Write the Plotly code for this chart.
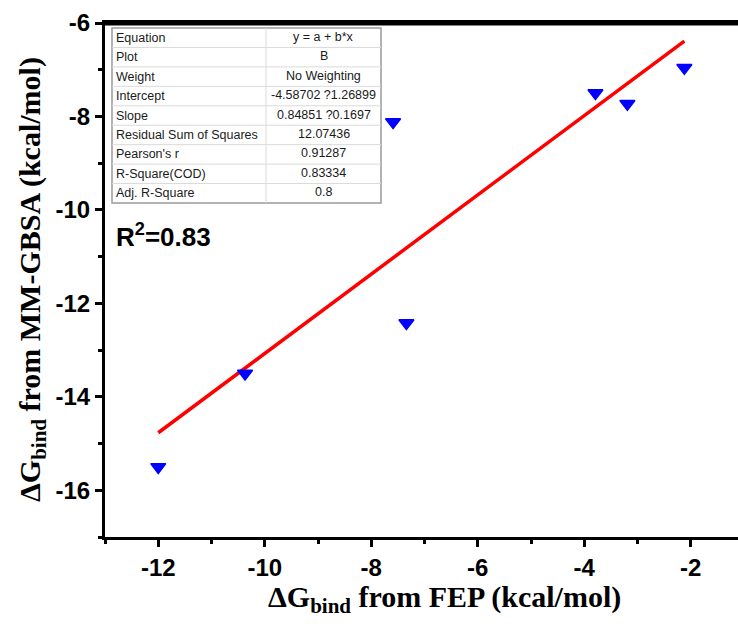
import plotly.graph_objects as go

# ---- data ----
fep_dg = [-12.0, -10.37, -7.59, -7.34, -3.79, -3.19, -2.12]
mmgbsa_dg = [-15.5, -13.5, -8.12, -12.42, -7.5, -7.73, -6.96]

fit_intercept = -4.58702
fit_slope = 0.84851

table_labels = ["Equation", "Plot", "Weight", "Intercept", "Slope",
                "Residual Sum of Squares", "Pearson's r", "R-Square(COD)", "Adj. R-Square"]
table_values = ["y = a + b*x", "B", "No Weighting", "-4.58702 ?1.26899", "0.84851 ?0.1697",
                "12.07436", "0.91287", "0.83334", "0.8"]

x_ticks = [-12, -10, -8, -6, -4, -2]
x_ticktext = ["-12", "-10", "-8", "-6", "-4", "-2"]
y_ticks = [-16, -14, -12, -10, -8, -6]
y_ticktext = ["-16", "-14", "-12", "-10", "-8", "-6"]

# ---- figure ----
W, H = 738, 624
ml, mr, mt, mb = 105, 0, 23, 87
pw = W - ml - mr
ph = H - mt - mb


def px_x(px):
    return (px - ml) / pw


def px_y(py):
    return (H - mb - py) / ph


fig = go.Figure()

line_x = [min(fep_dg), max(fep_dg)]
line_y = [fit_intercept + fit_slope * v for v in line_x]
fig.add_trace(go.Scatter(x=line_x, y=line_y, mode="lines",
                         line=dict(color="#ff0000", width=3.5), showlegend=False,
                         hoverinfo="skip"))
fig.add_trace(go.Scatter(x=fep_dg, y=mmgbsa_dg, mode="markers",
                         marker=dict(symbol="triangle-down", size=13, color="#0000ff",
                                     line=dict(width=1.5, color="#0000ff")),
                         showlegend=False))

# ---- results table (drawn with shapes + annotations) ----
tbl_left, tbl_right, tbl_top, tbl_bottom, tbl_split = 112, 381, 28, 203, 266
n_rows = len(table_labels)
row_h = (tbl_bottom - tbl_top) / n_rows
shapes = []
# top frame of the plot area
shapes.append(dict(type="rect", xref="paper", yref="paper",
                   x0=px_x(103.5), x1=1, y0=px_y(25.5), y1=px_y(22.5),
                   fillcolor="black", line=dict(width=0), layer="above"))
shapes.append(dict(type="rect", xref="paper", yref="paper",
                   x0=px_x(tbl_left), x1=px_x(tbl_right), y0=px_y(tbl_bottom), y1=px_y(tbl_top),
                   fillcolor="white", line=dict(color="#9a9a9a", width=1.5), layer="above"))
for i in range(1, n_rows):
    yy = tbl_top + i * row_h
    shapes.append(dict(type="line", xref="paper", yref="paper",
                       x0=px_x(tbl_left), x1=px_x(tbl_right), y0=px_y(yy), y1=px_y(yy),
                       line=dict(color="#dadada", width=1), layer="above"))
shapes.append(dict(type="line", xref="paper", yref="paper",
                   x0=px_x(tbl_split), x1=px_x(tbl_split), y0=px_y(tbl_bottom), y1=px_y(tbl_top),
                   line=dict(color="#dadada", width=1), layer="above"))

tfont = dict(family="Liberation Sans, Arial", size=12.5, color="#1a1a1a")
for i, (lab, val) in enumerate(zip(table_labels, table_values)):
    yc = tbl_top + (i + 0.5) * row_h
    fig.add_annotation(xref="paper", yref="paper", x=px_x(tbl_left + 3), y=px_y(yc),
                       text=lab, showarrow=False, xanchor="left", yanchor="middle",
                       font=tfont, borderpad=0)
    fig.add_annotation(xref="paper", yref="paper", x=px_x((tbl_split + tbl_right) / 2), y=px_y(yc - 1),
                       text=val, showarrow=False, xanchor="center", yanchor="middle",
                       font=tfont, borderpad=0)

axis_common = dict(
    showgrid=False, zeroline=False, showline=True, linecolor="black", linewidth=3,
    ticks="outside", ticklen=7, tickwidth=3, tickcolor="black",
    tickfont=dict(family="Liberation Sans, Arial", size=24, color="black", weight="bold"),
)

fig.update_layout(
    width=W, height=H,
    margin=dict(l=ml, r=mr, t=mt, b=mb),
    plot_bgcolor="white", paper_bgcolor="white",
    xaxis=dict(range=[-13, -13 + pw / 53.25], tickvals=x_ticks, ticktext=x_ticktext, mirror=True,
               minor=dict(dtick=1, tick0=-13, ticks="outside", ticklen=4, tickwidth=3, tickcolor="black"),
               ticklabelstandoff=0, automargin=False, **axis_common),
    yaxis=dict(range=[-17, -6], tickvals=y_ticks, ticktext=y_ticktext,
               minor=dict(dtick=1, tick0=-17, ticks="outside", ticklen=4, tickwidth=3, tickcolor="black"),
               ticklabelstandoff=0, automargin=False, **axis_common),
    showlegend=False,
    shapes=shapes,
)

title_font = dict(family="Liberation Serif, Times New Roman", size=30, color="black", weight="bold")
fig.add_annotation(xref="paper", yref="paper", x=px_x(444), y=px_y(599),
                   text="ΔG<sub>bind</sub> from FEP (kcal/mol)", showarrow=False,
                   xanchor="center", yanchor="middle", font=title_font)
fig.add_annotation(xref="paper", yref="paper", x=px_x(32), y=px_y(280),
                   text="ΔG<sub>bind</sub> from MM-GBSA (kcal/mol)", showarrow=False, textangle=-90,
                   xanchor="center", yanchor="middle", font=title_font)
fig.add_annotation(xref="paper", yref="paper", x=px_x(114), y=px_y(236),
                   text="R<sup>2</sup>=0.83", showarrow=False, xanchor="left", yanchor="middle",
                   font=dict(family="Liberation Sans, Arial", size=26, color="black", weight="bold"))

fig.write_html("out.html", post_script="document.body.style.margin='0px';",
               config={"displayModeBar": False})
